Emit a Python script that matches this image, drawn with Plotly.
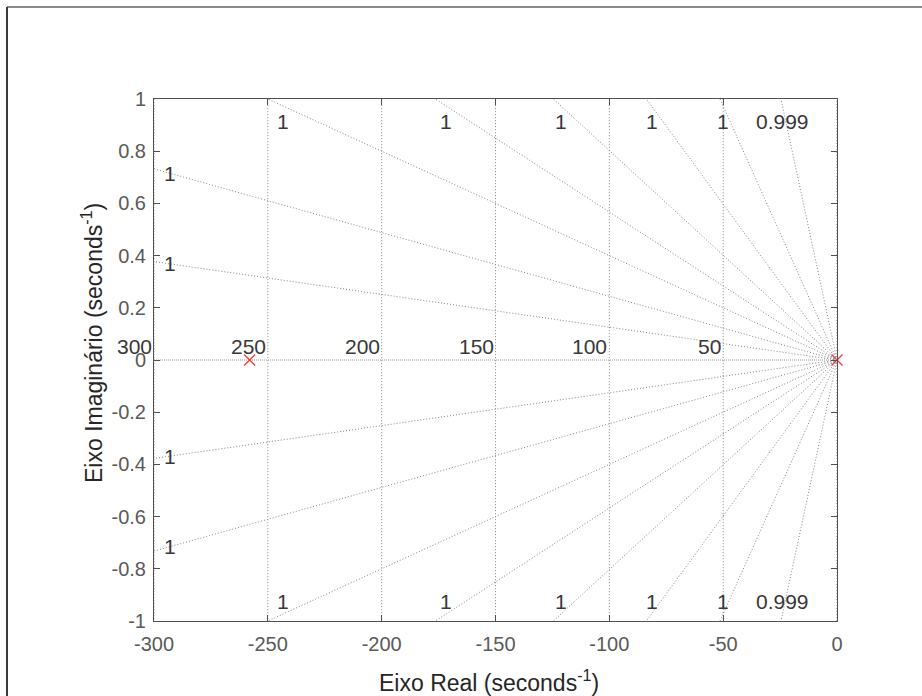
import numpy as np
import plotly.graph_objects as go

# ---- data -------------------------------------------------------------
pole_real = [-258.0, 0.0]
pole_imag = [0.0, 0.0]

# natural-frequency circles of the s-plane grid (rad/s)
wn_values = [50, 100, 150, 200, 250, 300]
# constant-damping rays of the s-plane grid
zeta_values = [0.99999921, 0.99999702, 0.99999200, 0.99998393,
               0.99996779, 0.99992864, 0.99981080, 0.99917480]

x_ticks = [-300, -250, -200, -150, -100, -50, 0]
x_tick_text = ["-300", "-250", "-200", "-150", "-100", "-50", "0"]
y_ticks = [-1, -0.8, -0.6, -0.4, -0.2, 0, 0.2, 0.4, 0.6, 0.8, 1]
y_tick_text = ["-1", "-0.8", "-0.6", "-0.4", "-0.2", "0", "0.2", "0.4", "0.6", "0.8", "1"]

X_RANGE = [-300, 0]
Y_RANGE = [-1, 1]

FONT = "Liberation Sans, Arial, Helvetica, sans-serif"
GRID_COLOR = "#858585"
GRID_DASH = "1px,2px"

fig = go.Figure()

# constant-damping rays (upper and lower half-plane)
for z in zeta_values:
    s = np.sqrt(1 - z * z) / z
    r = 400.0
    xs = [0.0, -r]
    for sign in (1, -1):
        fig.add_trace(go.Scatter(
            x=xs, y=[0.0, sign * s * r], mode="lines",
            line=dict(color=GRID_COLOR, width=1, dash=GRID_DASH),
            hoverinfo="skip", showlegend=False))

# real and imaginary axes of the grid
fig.add_trace(go.Scatter(x=[0, -400], y=[0, 0], mode="lines",
                         line=dict(color="#9a9a9a", width=1, dash="1px,1px"),
                         hoverinfo="skip", showlegend=False))
fig.add_trace(go.Scatter(x=[0, 0], y=[-2, 2], mode="lines",
                         line=dict(color=GRID_COLOR, width=1, dash=GRID_DASH),
                         hoverinfo="skip", showlegend=False))

# natural-frequency arcs
for wn in wn_values:
    ys = np.linspace(-1.2, 1.2, 61)
    xs = -np.sqrt(wn ** 2 - ys ** 2)
    fig.add_trace(go.Scatter(x=xs, y=ys, mode="lines",
                             line=dict(color=GRID_COLOR, width=1, dash=GRID_DASH),
                             hoverinfo="skip", showlegend=False))

# poles
fig.add_trace(go.Scatter(
    x=pole_real, y=pole_imag, mode="markers",
    marker=dict(symbol="x-thin", size=11,
                line=dict(color="#f03c3c", width=1.3)),
    cliponaxis=False, showlegend=False))

annotations = []
label_font = dict(family=FONT, size=21, color="#383838")

# damping labels
for z in zeta_values:
    s = np.sqrt(1 - z * z) / z
    txt = f"{z:.3g}"
    if 1.0 / s <= -X_RANGE[0]:
        xl = -0.973 / s
        annotations.append(dict(x=xl, y=1, text=txt, showarrow=False,
                                xanchor="center", yanchor="middle", yshift=-22,
                                font=label_font))
        annotations.append(dict(x=xl, y=-1, text=txt, showarrow=False,
                                xanchor="center", yanchor="middle", yshift=20,
                                font=label_font))
    else:
        xl = -293.0
        for sign in (1, -1):
            annotations.append(dict(x=xl, y=sign * s * -xl, text=txt, showarrow=False,
                                    xanchor="center", yanchor="middle",
                                    font=label_font))

# natural-frequency labels
for wn in wn_values:
    annotations.append(dict(x=-wn, y=0, text=str(wn), showarrow=False,
                            xanchor="right", yanchor="bottom",
                            font=label_font))

# axis titles
title_font = dict(family=FONT, size=23, color="#262626")
annotations.append(dict(xref="paper", yref="paper", x=(489 - 154) / 683, y=(621 - 681) / 522,
                        text="Eixo Real (seconds<sup>-1</sup>)", showarrow=False,
                        xanchor="center", yanchor="middle", font=title_font))
annotations.append(dict(xref="paper", yref="paper", x=(92 - 154) / 683, y=(621 - 343) / 522,
                        text="Eixo Imaginário (seconds<sup>-1</sup>)", showarrow=False,
                        textangle=-90, xanchor="center", yanchor="middle", font=title_font))

axis_common = dict(showgrid=False, zeroline=False, showline=True, mirror="ticks",
                   linecolor="#505050", linewidth=1, ticks="inside", ticklen=6,
                   tickcolor="#505050", tickwidth=1,
                   tickfont=dict(family=FONT, size=20, color="#5a5a5a"))

fig.update_layout(
    width=922, height=696,
    margin=dict(l=154, r=85, t=99, b=75),
    paper_bgcolor="white", plot_bgcolor="white",
    xaxis=dict(range=X_RANGE, tickvals=x_ticks, ticktext=x_tick_text,
               ticklabelstandoff=5, **axis_common),
    yaxis=dict(range=Y_RANGE, tickvals=y_ticks, ticktext=y_tick_text,
               ticklabelstandoff=3, **axis_common),
    annotations=annotations,
    shapes=[
        dict(type="line", xref="paper", yref="paper",
             x0=(7 - 154) / 683, x1=(922 - 154) / 683,
             y0=(621 - 7) / 522, y1=(621 - 7) / 522,
             line=dict(color="#8a8a8a", width=2)),
        dict(type="line", xref="paper", yref="paper",
             x0=(7 - 154) / 683, x1=(7 - 154) / 683,
             y0=(621 - 7) / 522, y1=(621 - 696) / 522,
             line=dict(color="#3a3a3a", width=2)),
    ],
)

fig.write_html("out.html")
